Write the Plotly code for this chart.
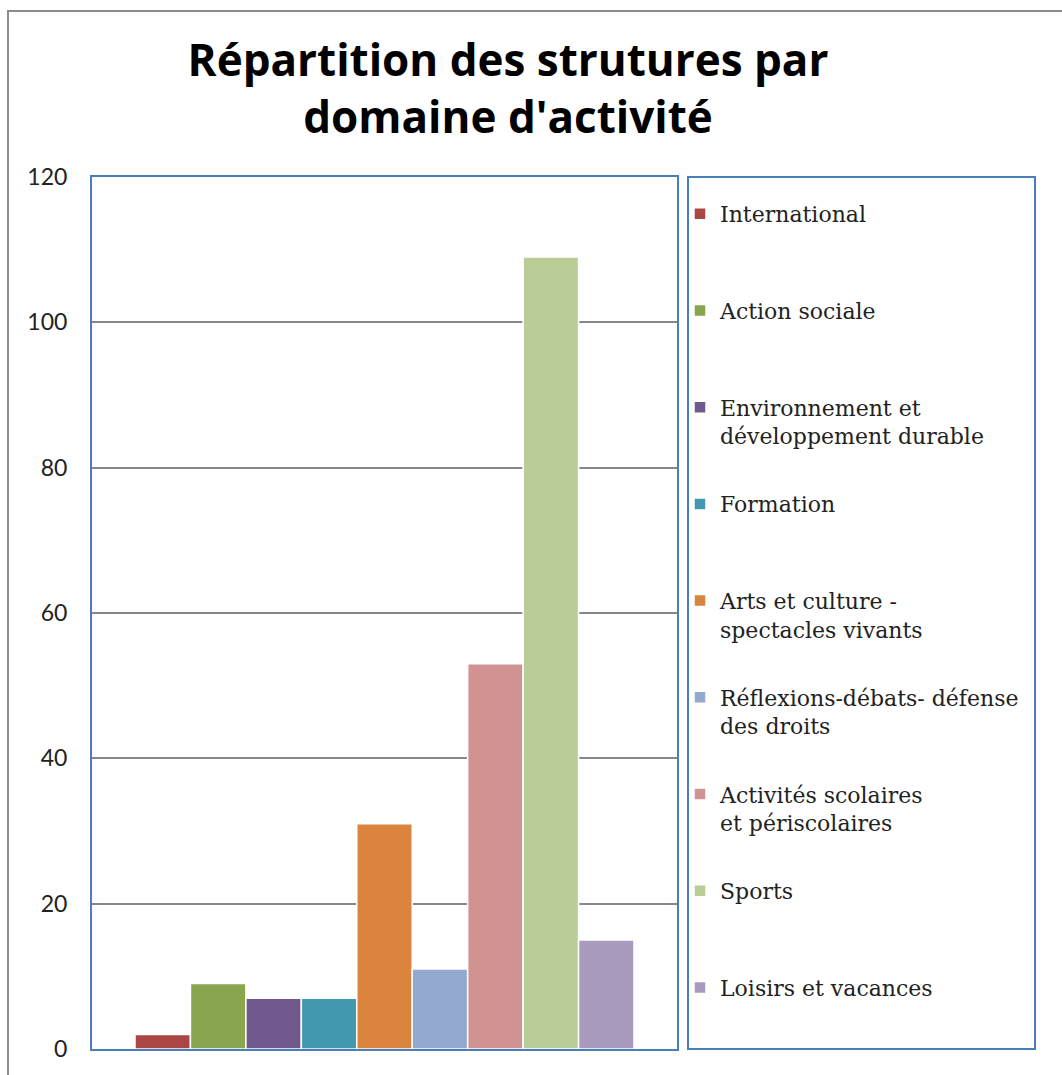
import plotly.graph_objects as go

# ---- data ----
domaines = [
    "International",
    "Action sociale",
    "Environnement et<br>développement durable",
    "Formation",
    "Arts et culture -<br>spectacles vivants",
    "Réflexions-débats- défense<br>des droits",
    "Activités scolaires<br>et périscolaires",
    "Sports",
    "Loisirs et vacances",
]
nombre_structures = [2, 9, 7, 7, 31, 11, 53, 109, 15]
y_ticks = [0, 20, 40, 60, 80, 100, 120]

# ---- style ----
couleurs = ["#AA4643", "#89A54E", "#71588F", "#4198AF", "#DB843D",
            "#93A9CF", "#D19392", "#B9CD96", "#A99BBD"]

W, H = 1062, 1075
L, R, T, B = 92, 1062 - 677, 177, 1075 - 1049
pw, ph = W - L - R, H - T - B


def px_x(p):
    return (p - L) / pw


def px_y(p):
    return (H - B - p) / ph


fig = go.Figure()
for i, (nom, val) in enumerate(zip(domaines, nombre_structures)):
    label = nom if "<br>" in nom else nom + "<br>\u00a0"
    fig.add_trace(go.Bar(
        x=[0], y=[val], name=label, legendgroup=f"g{i}",
        marker=dict(color=couleurs[i], line=dict(color="white", width=1.5)),
        hoverinfo="name+y",
    ))

fig.update_layout(
    width=W, height=H,
    margin=dict(l=L, r=R, t=T, b=B, autoexpand=False),
    paper_bgcolor="white", plot_bgcolor="white",
    barmode="group", bargap=0.147, bargroupgap=0,
    title=dict(
        text="<b>Répartition des strutures par<br>domaine d'activité</b>",
        font=dict(family="Open Sans", size=44, color="black"),
        x=px_x(508), xref="paper", xanchor="center",
        y=1 - 76 / H, yref="container", yanchor="top",
    ),
    xaxis=dict(range=[-0.5, 0.5], showticklabels=False, showgrid=False,
               zeroline=False, showline=True, mirror=True,
               linecolor="#4A7EBB", linewidth=2, layer="below traces",
               fixedrange=True),
    yaxis=dict(range=[0, 120], tickvals=y_ticks, showgrid=True,
               gridcolor="#878787", gridwidth=2, zeroline=False,
               showline=True, mirror=True, linecolor="#4A7EBB",
               linewidth=2, layer="below traces",
               tickfont=dict(family="Lato", size=23, color="#222"),
               ticklabelstandoff=18, fixedrange=True),
    legend=dict(
        x=px_x(680), xanchor="left", y=px_y(193), yanchor="top",
        font=dict(family="DejaVu Serif", size=22, color="#222"),
        tracegroupgap=36.5, valign="top", borderwidth=0,
        bgcolor="rgba(0,0,0,0)", traceorder="grouped",
    ),
    showlegend=True,
    shapes=[
        # legend frame
        dict(type="rect", xref="paper", yref="paper",
             x0=px_x(688), x1=px_x(1035), y0=0, y1=1,
             line=dict(color="#4A7EBB", width=2), layer="below"),
        # outer chart frame
        dict(type="rect", xref="paper", yref="paper",
             x0=px_x(8), x1=px_x(1080), y0=px_y(1090), y1=px_y(11),
             line=dict(color="#8C8C8C", width=2), layer="below"),
    ],
)

fig.write_html(
    "out.html",
    config={"displayModeBar": False},
    post_script="document.body.style.margin='0';document.body.style.overflow='hidden';",
)
